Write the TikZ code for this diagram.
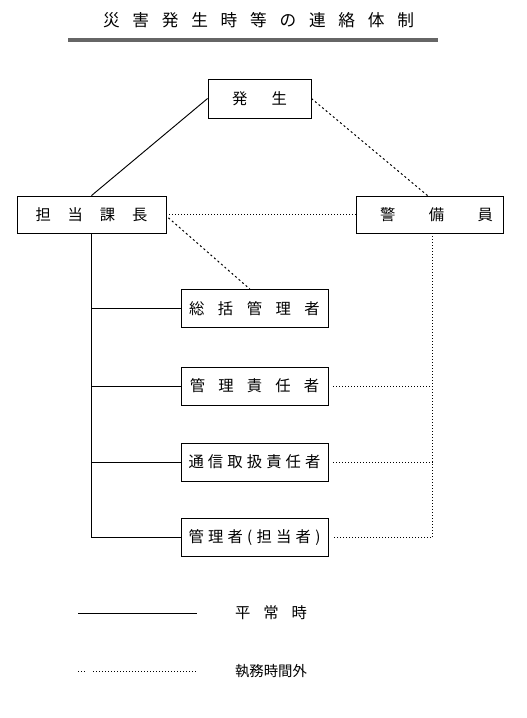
\documentclass[tikz,border=0pt]{standalone}
\usepackage{fontspec}
\setmainfont{Noto Sans CJK JP}
\usetikzlibrary{calc}
\newcommand{\spread}[2]{\makebox[#1][s]{#2}}
\begin{document}
\begin{tikzpicture}[x=0.75pt,y=-0.75pt,
  box/.style={draw,line width=0.65pt,minimum width=110.25pt,minimum height=28.5pt,inner sep=0pt,
    font=\fontsize{11.5}{13}\selectfont},
  solidline/.style={line width=0.7pt},
  dotline/.style={line width=0.75pt,dash pattern=on 0.75pt off 1.5pt},
  dashline/.style={line width=0.75pt,dash pattern=on 1.5pt off 2pt},
  lbl/.style={inner sep=0pt,font=\fontsize{11.5}{13}\selectfont}]
\useasboundingbox[fill=white] (0,0) rectangle (526,718);

% title
\node[inner sep=0pt,font=\fontsize{12.5}{14}\selectfont] (title) at (258.5,20)
  {\spread{233.25pt}{災\hfill{}害\hfill{}発\hfill{}生\hfill{}時\hfill{}等\hfill{}の\hfill{}連\hfill{}絡\hfill{}体\hfill{}制}};
\coordinate (rl) at (68,40);
\coordinate (rr) at (438,40);
\draw[line width=2.4pt,black!60] (rl) -- (rr);

% boxes
\node[box,minimum width=77.25pt,minimum height=29.25pt] (hassei) at (259.5,98.5) {\spread{41.25pt}{発\hfill{}生}};
\node[box,minimum width=111.75pt,minimum height=27.75pt] (tanto) at (91.5,214.5) {\spread{84pt}{担\hfill{}当\hfill{}課\hfill{}長}};
\node[box,minimum width=110.25pt,minimum height=27.75pt] (keibi) at (429.5,214.5) {\hspace*{10.5pt}\spread{84.75pt}{警\hfill{}備\hfill{}員}};
\node[box] (sokatsu) at (254.5,308.5) {\spread{98pt}{総\hfill{}括\hfill{}管\hfill{}理\hfill{}者}};
\node[box] (sekinin) at (254.5,386) {\spread{97pt}{管\hfill{}理\hfill{}責\hfill{}任\hfill{}者}};
\node[box] (tsushin) at (254.5,462) {\spread{99pt}{通\hfill{}信\hfill{}取\hfill{}扱\hfill{}責\hfill{}任\hfill{}者}};
\node[box] (kanrisha) at (254.5,537.5) {\spread{99pt}{管\hfill{}理\hfill{}者\hfill{}(\hfill{}担\hfill{}当\hfill{}者\hfill{})}};

% solid connectors
\draw[solidline] (hassei.west) -- (tanto.north);
\draw[solidline] (tanto.south) |- (kanrisha.west);
\draw[solidline] (tanto.south |- sokatsu.west) -- (sokatsu.west);
\draw[solidline] (tanto.south |- sekinin.west) -- (sekinin.west);
\draw[solidline] (tanto.south |- tsushin.west) -- (tsushin.west);

% dotted connectors
\draw[dashline] (hassei.east) -- ([xshift=-1.5pt]keibi.north);
\draw[dotline] (tanto.east) -- (keibi.west);
\draw[dashline] ([xshift=1.5pt,yshift=-2.5pt]tanto.east) -- ([xshift=-3.5pt]sokatsu.north);
\draw[dotline] ([xshift=2.6pt]keibi.south) -- ([xshift=2.6pt]keibi.south |- kanrisha.east) -- ([xshift=3.75pt]kanrisha.east);
\draw[dotline] ([xshift=3.75pt]sekinin.east) -- ([xshift=2.6pt]keibi.south |- sekinin.east);
\draw[dotline] ([xshift=3.75pt]tsushin.east) -- ([xshift=2.6pt]keibi.south |- tsushin.east);

% legend
\coordinate (la) at (78,613);
\coordinate (lb) at (197,613);
\draw[solidline] (la) -- (lb);
\node[lbl] (heijo) at (271,613) {\spread{54pt}{平\hfill{}常\hfill{}時}};
\coordinate (da) at (78,671);
\coordinate (db) at (86,671);
\coordinate (dc) at (93,671);
\coordinate (dd) at (197,671);
\draw[dotline] (da) -- (db);
\draw[dotline] (dc) -- (dd);
\node[lbl,font=\fontsize{10.8}{13}\selectfont] (shitsumu) at (271,671) {執務時間外};
\end{tikzpicture}
\end{document}
